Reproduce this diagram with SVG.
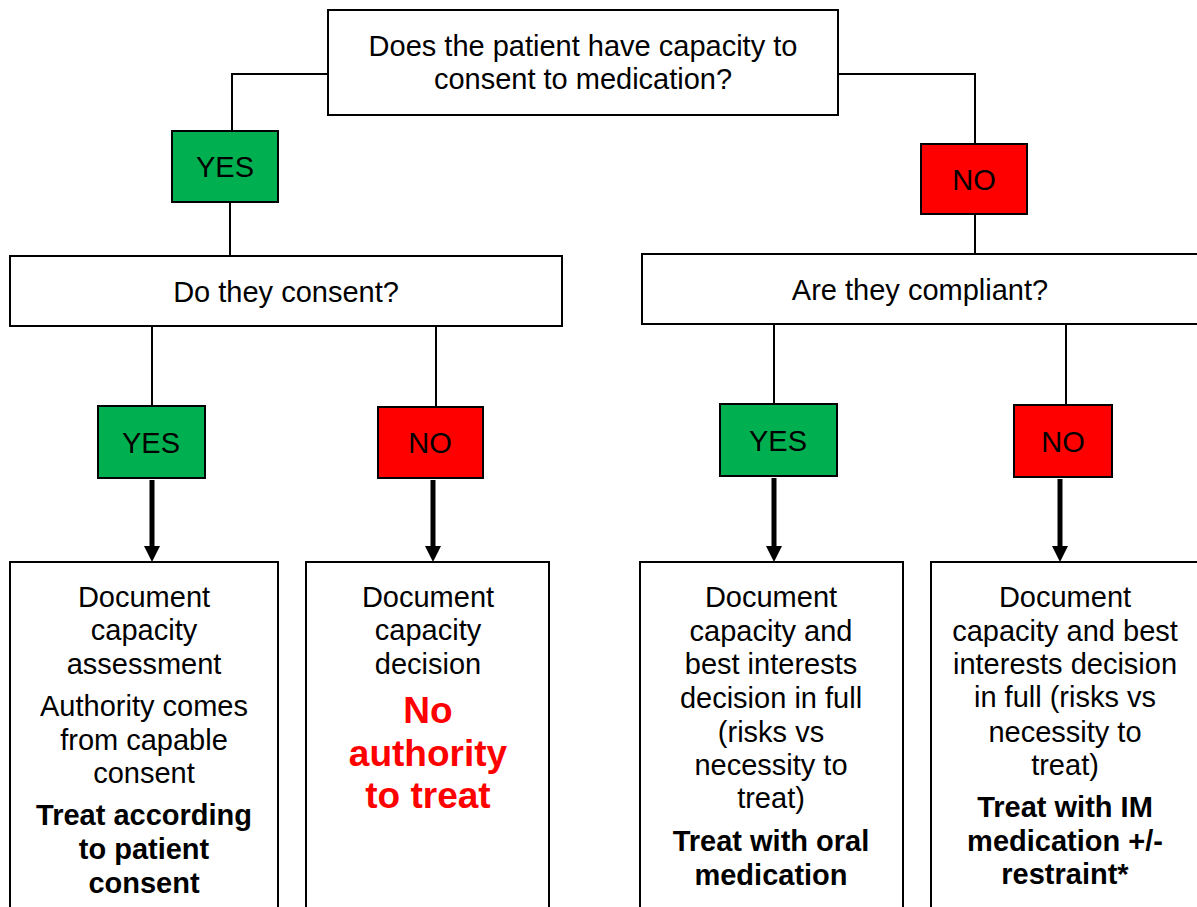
<svg xmlns="http://www.w3.org/2000/svg" width="1197" height="907" viewBox="0 0 1197 907">
<style>
.box{fill:#fff;stroke:#000;stroke-width:2}
.yes{fill:#00B050;stroke:#000;stroke-width:2}
.no{fill:#FF0000;stroke:#000;stroke-width:2}
text{font-family:"Liberation Sans",Arial,sans-serif;font-size:29px;fill:#000;text-anchor:middle}
.b{font-weight:bold}
.red{font-weight:bold;fill:#FF0000;font-size:37px}
.ln{fill:none;stroke:#000;stroke-width:2}
.ar{fill:none;stroke:#000;stroke-width:5}
</style>
<defs>
<marker id="ah" markerUnits="userSpaceOnUse" markerWidth="16" markerHeight="16" refX="0" refY="8" orient="auto">
<path d="M0,0 L16,8 L0,16 Z" fill="#000"/>
</marker>
</defs>
<g id="connectors">
<polyline class="ln" points="328,74 232,74 232,131"/>
<polyline class="ln" points="838,74 975,74 975,144"/>
<line class="ln" x1="230" y1="202" x2="230" y2="256"/>
<line class="ln" x1="975" y1="214" x2="975" y2="254"/>
<line class="ln" x1="152" y1="326" x2="152" y2="406"/>
<line class="ln" x1="436" y1="326" x2="436" y2="407"/>
<line class="ln" x1="774" y1="324" x2="774" y2="404"/>
<line class="ln" x1="1066" y1="324" x2="1066" y2="405"/>
<line class="ar" x1="152" y1="480" x2="152" y2="546" marker-end="url(#ah)"/>
<line class="ar" x1="433" y1="480" x2="433" y2="546" marker-end="url(#ah)"/>
<line class="ar" x1="774" y1="478" x2="774" y2="546" marker-end="url(#ah)"/>
<line class="ar" x1="1060" y1="479" x2="1060" y2="546" marker-end="url(#ah)"/>
</g>
<g id="q1">
<rect class="box" x="328" y="10" width="510" height="105"/>
<text x="583" y="56">Does the patient have capacity to</text>
<text x="583" y="89">consent to medication?</text>
</g>
<g id="yes1">
<rect class="yes" x="172" y="131" width="106" height="71"/>
<text x="225" y="177">YES</text>
</g>
<g id="no1">
<rect class="no" x="921" y="144" width="106" height="70"/>
<text x="974" y="190">NO</text>
</g>
<g id="q2">
<rect class="box" x="10" y="256" width="552" height="70"/>
<text x="286" y="302">Do they consent?</text>
</g>
<g id="q3">
<rect class="box" x="642" y="254" width="557" height="70"/>
<text x="920" y="300">Are they compliant?</text>
</g>
<g id="yes2">
<rect class="yes" x="98" y="406" width="107" height="72"/>
<text x="151" y="453">YES</text>
</g>
<g id="no2">
<rect class="no" x="378" y="407" width="105" height="71"/>
<text x="430" y="453">NO</text>
</g>
<g id="yes3">
<rect class="yes" x="720" y="404" width="117" height="72"/>
<text x="778" y="451">YES</text>
</g>
<g id="no3">
<rect class="no" x="1014" y="405" width="98" height="72"/>
<text x="1063" y="452">NO</text>
</g>
<g id="r1">
<rect class="box" x="10" y="562" width="268" height="350"/>
<text x="144" y="607">Document</text>
<text x="144" y="640">capacity</text>
<text x="144" y="674">assessment</text>
<text x="144" y="716">Authority comes</text>
<text x="144" y="750">from capable</text>
<text x="144" y="783">consent</text>
<text class="b" x="144" y="825">Treat according</text>
<text class="b" x="144" y="859">to patient</text>
<text class="b" x="144" y="893">consent</text>
</g>
<g id="r2">
<rect class="box" x="306" y="562" width="243" height="350"/>
<text x="428" y="607">Document</text>
<text x="428" y="640">capacity</text>
<text x="428" y="674">decision</text>
<text class="red" x="428" y="723">No</text>
<text class="red" x="428" y="766">authority</text>
<text class="red" x="428" y="808">to treat</text>
</g>
<g id="r3">
<rect class="box" x="640" y="562" width="263" height="350"/>
<text x="771" y="607">Document</text>
<text x="771" y="641">capacity and</text>
<text x="771" y="674">best interests</text>
<text x="771" y="708">decision in full</text>
<text x="771" y="742">(risks vs</text>
<text x="771" y="775">necessity to</text>
<text x="771" y="808">treat)</text>
<text class="b" x="771" y="851">Treat with oral</text>
<text class="b" x="771" y="885">medication</text>
</g>
<g id="r4">
<rect class="box" x="931" y="562" width="270" height="350"/>
<text x="1065" y="607">Document</text>
<text x="1065" y="641">capacity and best</text>
<text x="1065" y="674">interests decision</text>
<text x="1065" y="707">in full (risks vs</text>
<text x="1065" y="742">necessity to</text>
<text x="1065" y="775">treat)</text>
<text class="b" x="1065" y="817">Treat with IM</text>
<text class="b" x="1065" y="851">medication +/-</text>
<text class="b" x="1065" y="884">restraint*</text>
</g>
</svg>
